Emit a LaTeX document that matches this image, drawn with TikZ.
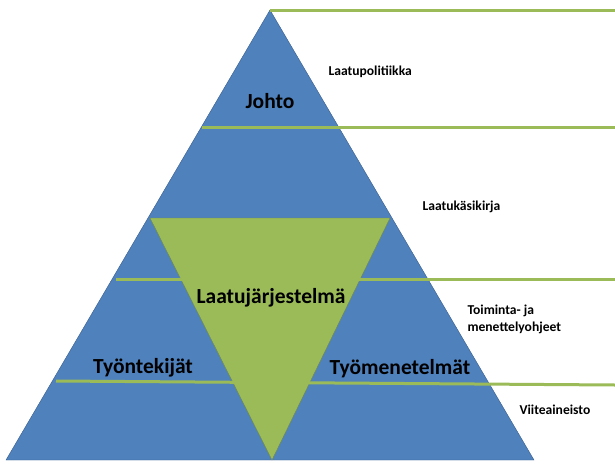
\documentclass[tikz,border=0pt]{standalone}
\usepackage{fontspec}
\setmainfont{Carlito}
\definecolor{pyrBlue}{RGB}{79,129,189}
\definecolor{pyrBlueEdge}{RGB}{56,93,138}
\definecolor{pyrGreen}{RGB}{155,187,89}
\definecolor{pyrGreenEdge}{RGB}{113,137,63}
\usetikzlibrary{positioning,calc}

\begin{document}
\begin{tikzpicture}[x=1pt, y=-1pt,
  lvl/.style={line width=3pt, pyrGreen},
  big/.style={font=\bfseries\fontsize{21.5}{24}\selectfont},
  side/.style={font=\bfseries\fontsize{13.6}{17}\selectfont, align=left, anchor=west}
]
  \useasboundingbox (0,0) rectangle (615,471);

  % pyramid and the inverted triangle
  \draw[pyrBlueEdge, fill=pyrBlue] (270,10) -- (534,460) -- (6,460) -- cycle;
  \draw[pyrGreenEdge, fill=pyrGreen] (150,218) -- (390,218) -- (272,460) -- cycle;

  % level lines
  \coordinate (top1) at (270,10);   \coordinate (top2) at (615,10);
  \coordinate (pol1) at (202,127);  \coordinate (pol2) at (615,127);
  \coordinate (toi1) at (116,279);  \coordinate (toi2) at (615,279);
  \coordinate (vii1) at (56,381);   \coordinate (vii2) at (615,385);
  \draw[lvl] (top1) -- (top2);
  \draw[lvl] (pol1) -- (pol2);
  \draw[lvl] (toi1) -- (toi2);
  \draw[lvl] (vii1) -- (vii2);

  % labels inside
  \node[big] (johto) at (270,101) {Johto};
  \node[big] (jarj)  at (271,298) {Laatujärjestelmä};
  \node[big] (tyont) at (143,368) {Työntekijät};
  \node[big] (tyom)  at (400,369) {Työmenetelmät};

  % labels on the right
  \node[side] (polit) at (325,72)  {Laatupolitiikka};
  \node[side] (kasik) at (419,207) {Laatukäsikirja};
  \node[side] (ohj)   at (464,319) {Toiminta- ja\\menettelyohjeet};
  \node[side] (viite) at (516,410) {Viiteaineisto};
\end{tikzpicture}
\end{document}
